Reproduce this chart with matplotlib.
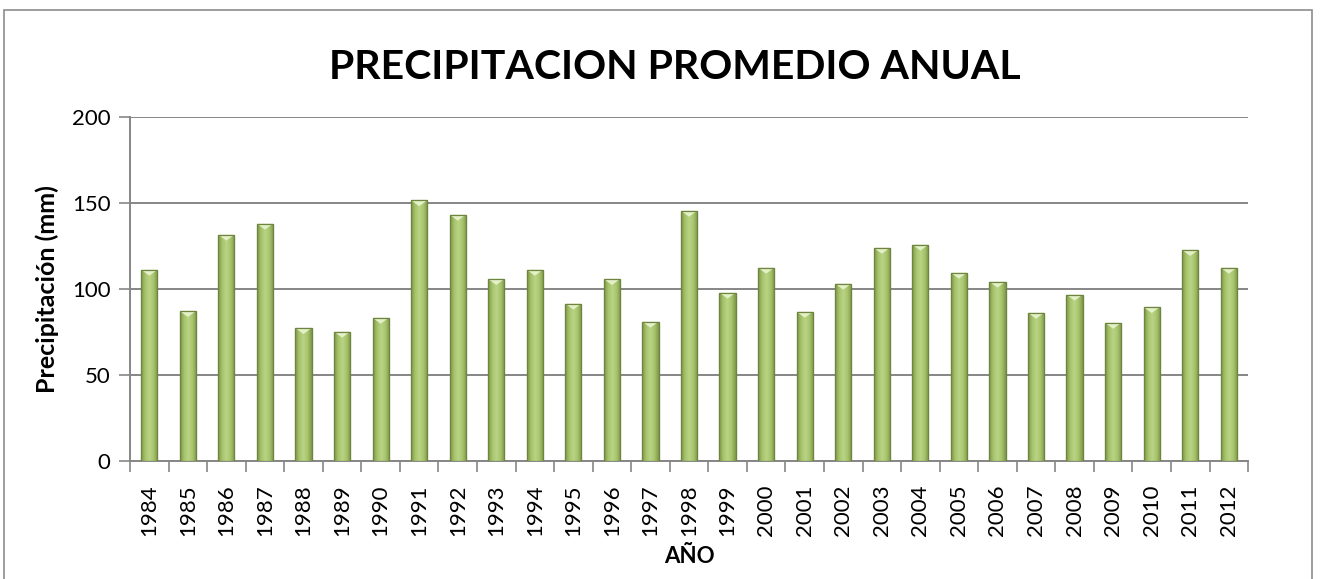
import matplotlib
matplotlib.use("Agg")
import matplotlib.pyplot as plt
import matplotlib.patches as mpatches
import numpy as np
from matplotlib.colors import LinearSegmentedColormap

plt.rcParams["font.family"] = ["Lato", "DejaVu Sans"]

years = [str(y) for y in range(1984, 2013)]
precip = [111.2, 87.2, 131.6, 138.0, 77.3, 75.2, 83.3, 151.6, 143.2, 105.8,
          111.2, 91.5, 105.8, 81.0, 145.5, 97.9, 112.4, 86.8, 103.1, 124.0,
          125.8, 109.5, 104.3, 86.2, 96.7, 80.4, 89.5, 122.7, 112.4]

BAR_W = 0.42
green = LinearSegmentedColormap.from_list(
    "bar", ["#7d9748", "#a7c46d", "#b9d585", "#a7c46d", "#7d9748"])

fig = plt.figure(figsize=(13.2, 5.79), dpi=100)
fig.patches.append(mpatches.Rectangle((0.003, -0.05), 0.991, 1.033, transform=fig.transFigure,
                                      fill=False, edgecolor="#8c8c8c", linewidth=1.2))
ax = fig.add_axes([0.0985, 0.2038, 0.847, 0.5942])

x = np.arange(len(years))
bars = ax.bar(x, precip, width=BAR_W, color="#9bbb59", edgecolor="#6e8540",
              linewidth=0.8, zorder=3)
grad = np.linspace(0, 1, 64).reshape(1, -1)
for b in bars:
    x0, w, h = b.get_x(), b.get_width(), b.get_height()
    im = ax.imshow(grad, cmap=green, aspect="auto", extent=(x0, x0 + w, 0, h),
                   zorder=3.5, interpolation="bicubic")
    im.set_clip_path(b)
    # bevelled top
    tri = mpatches.Polygon([(x0, h), (x0 + w, h), (x0 + w / 2, h - 3.5)],
                           closed=True, facecolor="#e3f0c8", edgecolor="none", zorder=4)
    ax.add_patch(tri)
    ax.add_patch(mpatches.Rectangle((x0, 0), w, h, fill=False, edgecolor="#6e8540",
                                    linewidth=0.9, zorder=4.5))

ax.set_xlim(-0.5, len(years) - 0.5)
ax.set_ylim(0, 200)
ax.set_yticks([0, 50, 100, 150, 200])
ax.yaxis.grid(True, color="#868686", linewidth=1.4, zorder=0)
ax.set_axisbelow(True)

ax.set_xticks(x)
ax.set_xticklabels(years, rotation=90, fontsize=16)
ax.set_xticks(np.arange(-0.5, len(years)), minor=True)
ax.tick_params(axis="x", which="major", length=0, pad=17)
ax.tick_params(axis="x", which="minor", length=8, width=1.2, color="#868686")
ax.tick_params(axis="y", length=8, width=1.2, color="#868686", labelsize=16, pad=6)

for s in ["top", "right"]:
    ax.spines[s].set_visible(False)
for s in ["left", "bottom"]:
    ax.spines[s].set_color("#868686")
    ax.spines[s].set_linewidth(1.4)

ax.set_ylabel("Precipitación (mm)", fontsize=18, fontweight="bold", labelpad=9)
ax.set_xlabel("AÑO", fontsize=16, fontweight="bold", labelpad=7)
fig.text(0.511, 0.883, "PRECIPITACION PROMEDIO ANUAL", ha="center", va="center",
         fontsize=29.5, fontweight="bold")

fig.savefig("out.png", dpi=100)
